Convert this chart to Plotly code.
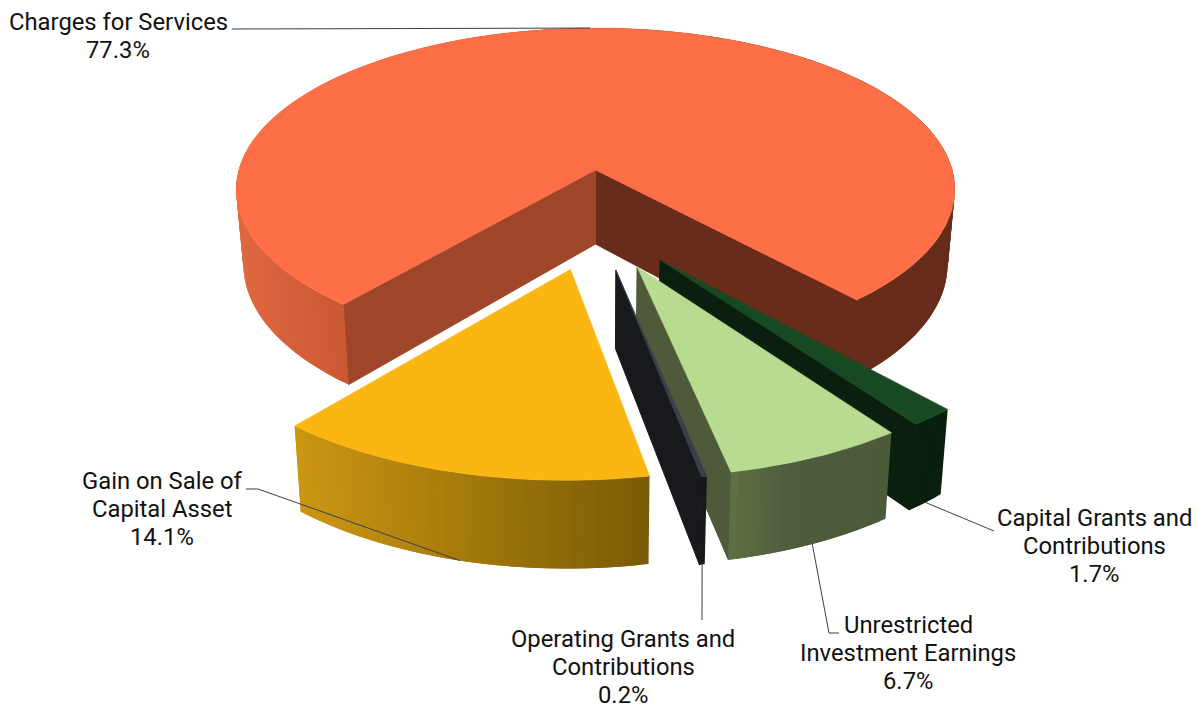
import math
import plotly.graph_objects as go

# Slice data, clockwise from the left edge of the largest slice
categories = ["Charges for Services", "Capital Grants and Contributions",
              "Unrestricted Investment Earnings", "Operating Grants and Contributions",
              "Gain on Sale of Capital Asset"]
shares = [77.3, 1.7, 6.7, 0.2, 14.1]
label_lines = [["Charges for Services", "77.3%"],
               ["Capital Grants and", "Contributions", "1.7%"],
               ["Unrestricted", "Investment Earnings", "6.7%"],
               ["Operating Grants and", "Contributions", "0.2%"],
               ["Gain on Sale of", "Capital Asset", "14.1%"]]

top_colors = ["#FF6F47", "#174A22", "#B7DC8F", "#3B3E4B", "#FBB612"]
# Wall shading stops: (fraction of the slice's screen width, colour)
wall_stops = [[(0, "#DF6841"), (0.147, "#CA5932"), (0.8, "#672C1A"), (1, "#672C1A")],
              [(0, "#0A1F0E"), (1, "#0A1F0E")],
              [(0, "#5E7046"), (0.35, "#4F5D3D"), (1, "#4C5A3A")],
              [(0, "#17191C"), (1, "#17191C")],
              [(0, "#CC9612"), (1, "#7A5A05")]]
cut_start = ["#9F452A", "#0A1F0E", "#4E5A3A", "#17191C", "#7A5A05"]
cut_end = ["#672C1A", "#0A1F0E", "#4E5A3A", "#17191C", "#7A5A05"]
explode = [0.32, 0.27, 0.27, 0.27, 0.27]
offset_x = [0, -0.005, -0.005, -0.005, -0.003]

# Camera: screen origin, radius scales, perspective strength, extrusion
U0, V0, AX, AY, PERSP, HEIGHT = 597.5, 170, 356.7, 159, 0.12, 74
TAPER_X, TAPER_Y = 0.98, 0.99
CENTER_Y = -0.32
ROTATE = -1.0

# Label centre (x, y of first line), line pitch, and elbow points of the leader lines
label_pos = [(118, 22), (1094, 518), (908, 625), (623, 639), (162, 481)]
LINE_PITCH = 28.2
FONT_SIZE = 23.8
leader_elbows = [[(232, 29)], [(994, 531)], [(839, 633), (829, 633)], [(702, 620)], [(246, 489), (258, 489)]]


def project(x, y, bottom=False):
    w = 1 + PERSP * y
    if bottom:
        return U0 + TAPER_X * AX * x / w, V0 + (-AY * y * TAPER_Y + HEIGHT) / w
    return U0 + AX * x / w, V0 - AY * y / w


def hex_rgb(c):
    return [int(c[i:i + 2], 16) for i in (1, 3, 5)]


def shade(stops, t):
    for (t0, c0), (t1, c1) in zip(stops, stops[1:]):
        if t <= t1:
            f = (t - t0) / (t1 - t0)
            a, b = hex_rgb(c0), hex_rgb(c1)
            return "rgb(%d,%d,%d)" % tuple(round(p + (q - p) * f) for p, q in zip(a, b))
    return stops[-1][1]


def polygon(points, color, edge=0.6):
    xs = [p[0] for p in points] + [points[0][0]]
    ys = [p[1] for p in points] + [points[0][1]]
    return go.Scatter(x=xs, y=ys, mode="lines", fill="toself", fillcolor=color,
                      line=dict(color=color, width=edge), hoverinfo="skip", showlegend=False)


def side(a, b, p):
    return (b[0] - a[0]) * (p[1] - a[1]) - (b[1] - a[1]) * (p[0] - a[0])


fig = go.Figure()
total = sum(shares)
angle = -shares[0] / total * 180 + ROTATE
anchors = []
for i, share in enumerate(shares):
    sweep = share / total * 360
    a0, a1 = math.radians(angle), math.radians(angle + sweep)
    mid = (a0 + a1) / 2
    cx = offset_x[i] + explode[i] * math.sin(mid)
    cy = CENTER_Y + explode[i] * math.cos(mid)

    steps = max(2, int(sweep / 1.0))
    rim = []
    for k in range(steps + 1):
        t = a0 + (a1 - a0) * k / steps
        rim.append((cx + math.sin(t), cy + math.cos(t)))
    rim_mid = (cx + math.sin(mid), cy + math.cos(mid))

    # cut faces: only those whose lower edge falls outside the top face can be seen
    apex = (cx, cy)
    inner = project(*rim_mid)
    for end, col in ((rim[-1], cut_end[i]), (rim[0], cut_start[i])):
        pa, pe = project(*apex), project(*end)
        qa, qe = project(*apex, True), project(*end, True)
        lower = ((qa[0] + qe[0]) / 2, (qa[1] + qe[1]) / 2)
        if side(pa, pe, inner) * side(pa, pe, lower) < 0:
            fig.add_trace(polygon([pa, pe, qe, qa], col, edge=1))

    # outer wall, shaded across its own screen extent; each strip overlaps the next to hide seams
    us = [project(*p)[0] for p in rim]
    umin, umax = min(us), max(us)
    for k in range(steps):
        far = min(k + 2, steps)
        arc = rim[k:far + 1]
        frac = ((us[k] + us[k + 1]) / 2 - umin) / max(umax - umin, 1e-6)
        pts = [project(*p) for p in arc] + [project(*p, True) for p in reversed(arc)]
        fig.add_trace(polygon(pts, shade(wall_stops[i], frac), edge=0))

    # top face
    fig.add_trace(polygon([project(*apex)] + [project(*p) for p in rim], top_colors[i]))

    anchors.append(project(*rim_mid, i != 0))
    angle += sweep

# Leader lines from the rim of each slice to its label
for anchor, elbows in zip(anchors, leader_elbows):
    pts = elbows + [anchor]
    fig.add_trace(go.Scatter(x=[p[0] for p in pts], y=[p[1] for p in pts], mode="lines",
                             line=dict(color="#3A3F4A", width=1), hoverinfo="skip", showlegend=False))

for lines, (x, y) in zip(label_lines, label_pos):
    for n, line in enumerate(lines):
        fig.add_annotation(x=x, y=y + n * LINE_PITCH, text=line, showarrow=False,
                           xanchor="center", yanchor="middle", align="center",
                           font=dict(family="Roboto", size=FONT_SIZE, color="#111111"))

fig.update_layout(width=1200, height=708, margin=dict(l=0, r=0, t=0, b=0),
                  paper_bgcolor="white", plot_bgcolor="white", showlegend=False,
                  xaxis=dict(range=[0, 1200], visible=False, fixedrange=True),
                  yaxis=dict(range=[708, 0], visible=False, fixedrange=True))
fig.write_html("out.html", config={"displayModeBar": False})
